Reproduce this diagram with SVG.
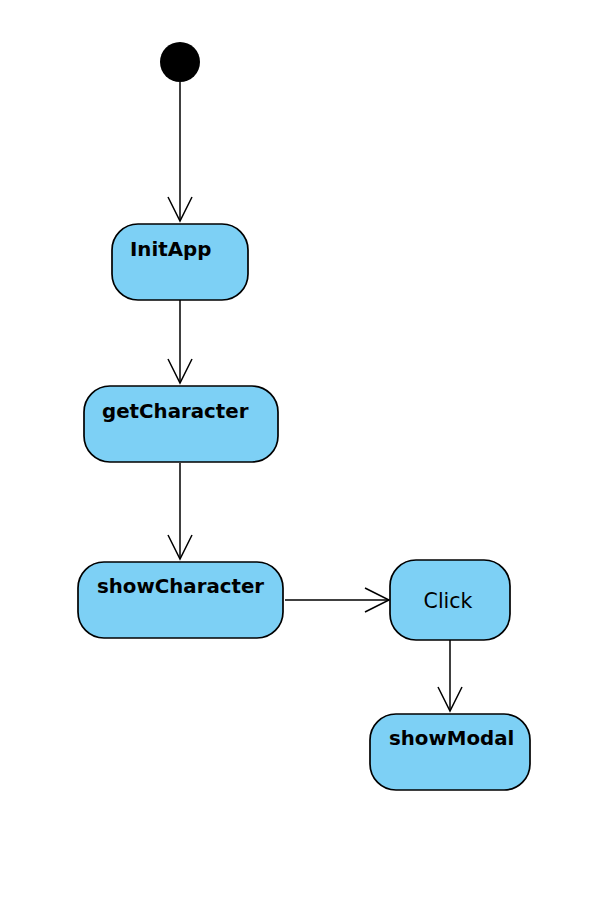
<svg xmlns="http://www.w3.org/2000/svg" width="598" height="910" viewBox="0 0 598 910">
<defs>
<style>
.node{fill:#7dd0f5;stroke:#000;stroke-width:1.7}
.lbl{font-family:"DejaVu Sans",sans-serif;font-weight:bold;font-size:19.8px;fill:#000}
.lbln{font-family:"DejaVu Sans",sans-serif;font-size:20.5px;fill:#000}
.edge{stroke:#000;stroke-width:1.5;fill:none}
</style>
<marker id="arr" markerUnits="userSpaceOnUse" markerWidth="30" markerHeight="30" refX="25" refY="12" orient="auto" viewBox="0 0 30 24">
<path d="M1,0 L25,12 L1,24" fill="none" stroke="#000" stroke-width="1.5"/>
</marker>
</defs>
<rect width="598" height="910" fill="#fff"/>
<g id="edges">
<line class="edge" x1="180" y1="82" x2="180" y2="221" marker-end="url(#arr)"/>
<line class="edge" x1="180" y1="300" x2="180" y2="383" marker-end="url(#arr)"/>
<line class="edge" x1="180" y1="463" x2="180" y2="559" marker-end="url(#arr)"/>
<line class="edge" x1="285" y1="600" x2="389" y2="600" marker-end="url(#arr)"/>
<line class="edge" x1="450" y1="640" x2="450" y2="711" marker-end="url(#arr)"/>
</g>
<g id="start"><circle cx="180" cy="62" r="20" fill="#000"/></g>
<g id="initApp"><rect class="node" x="112" y="224" width="136" height="76" rx="26"/><text class="lbl" x="130" y="256">InitApp</text></g>
<g id="getCharacter"><rect class="node" x="84" y="386" width="194" height="76" rx="26"/><text class="lbl" x="102" y="418">getCharacter</text></g>
<g id="showCharacter"><rect class="node" x="78" y="562" width="205" height="76" rx="26"/><text class="lbl" x="97" y="593">showCharacter</text></g>
<g id="click"><rect class="node" x="390" y="560" width="120" height="80" rx="26"/><text class="lbln" x="448" y="608" text-anchor="middle">Click</text></g>
<g id="showModal"><rect class="node" x="370" y="714" width="160" height="76" rx="26"/><text class="lbl" x="389" y="745">showModal</text></g>
</svg>
